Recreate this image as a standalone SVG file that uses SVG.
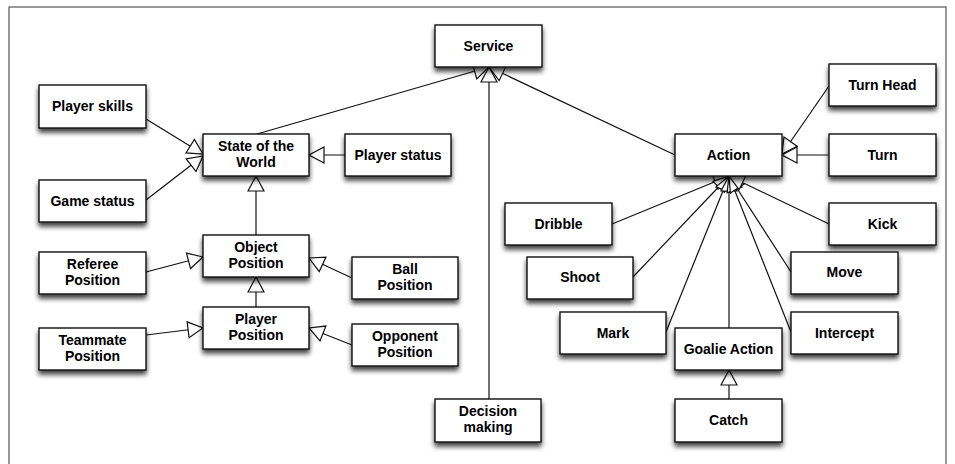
<svg xmlns="http://www.w3.org/2000/svg" width="955" height="464" viewBox="0 0 955 464">
<style>
.box{fill:#fff;stroke:#111;stroke-width:1.4;filter:url(#sh)}
.t{font-family:"Liberation Sans",Arial,Helvetica,sans-serif;font-weight:bold;font-size:14px;fill:#000;text-anchor:middle}
.c{stroke:#111;stroke-width:1.2;fill:none;marker-end:url(#tri)}
</style>
<defs>
<filter id="sh" x="-20%" y="-20%" width="140%" height="160%">
<feGaussianBlur in="SourceAlpha" stdDeviation="2.5"/>
<feOffset dx="0" dy="4" result="b"/>
<feComponentTransfer><feFuncA type="linear" slope="0.75"/></feComponentTransfer>
<feMerge><feMergeNode/><feMergeNode in="SourceGraphic"/></feMerge>
</filter>
<marker id="tri" viewBox="0 0 17 18" refX="16" refY="9" markerWidth="17" markerHeight="18" markerUnits="userSpaceOnUse" orient="auto">
<path d="M1,1 L16,9 L1,17 z" fill="#fff" stroke="#111" stroke-width="1.2"/>
</marker>
</defs>
<rect x="0" y="0" width="955" height="464" fill="#fff"/>
<rect x="9" y="7" width="937" height="470" fill="none" stroke="#555" stroke-width="1.2"/>
<g id="connectors">
<line class="c" x1="146" y1="119" x2="203" y2="154"/>
<line class="c" x1="146" y1="200" x2="203" y2="156"/>
<line class="c" x1="345" y1="155" x2="309" y2="155"/>
<line class="c" x1="257" y1="134" x2="489" y2="67"/>
<line class="c" x1="256" y1="235" x2="256" y2="176"/>
<line class="c" x1="146" y1="272" x2="203" y2="257"/>
<line class="c" x1="256" y1="307" x2="256" y2="277"/>
<line class="c" x1="146" y1="335" x2="203" y2="328"/>
<line class="c" x1="352" y1="278" x2="309" y2="258"/>
<line class="c" x1="352" y1="345" x2="309" y2="328"/>
<line class="c" x1="489" y1="399" x2="489" y2="67"/>
<line class="c" x1="675" y1="155" x2="489" y2="67"/>
<line class="c" x1="829" y1="86" x2="782" y2="154"/>
<line class="c" x1="829" y1="155" x2="782" y2="155"/>
<line class="c" x1="612" y1="224" x2="729" y2="176"/>
<line class="c" x1="633" y1="277" x2="729" y2="176"/>
<line class="c" x1="666" y1="332" x2="729" y2="176"/>
<line class="c" x1="729" y1="328" x2="729" y2="176"/>
<line class="c" x1="791" y1="332" x2="729" y2="176"/>
<line class="c" x1="791" y1="272" x2="729" y2="176"/>
<line class="c" x1="829" y1="224" x2="729" y2="176"/>
<line class="c" x1="729" y1="399" x2="729" y2="370"/>
</g>
<g id="service"><rect class="box" x="435" y="25" width="107" height="42"/><text class="t" x="488.5" y="51">Service</text></g>
<g id="player-skills"><rect class="box" x="39" y="85" width="107" height="43"/><text class="t" x="92.5" y="111">Player skills</text></g>
<g id="game-status"><rect class="box" x="39" y="180" width="107" height="42"/><text class="t" x="92.5" y="206">Game status</text></g>
<g id="state-of-the-world"><rect class="box" x="203" y="134" width="106" height="42"/><text class="t" x="256" y="151">State of the</text><text class="t" x="256" y="167">World</text></g>
<g id="player-status"><rect class="box" x="345" y="134" width="106" height="42"/><text class="t" x="398" y="160">Player status</text></g>
<g id="object-position"><rect class="box" x="203" y="235" width="106" height="42"/><text class="t" x="256" y="252">Object</text><text class="t" x="256" y="268">Position</text></g>
<g id="referee-position"><rect class="box" x="39" y="252" width="107" height="42"/><text class="t" x="92.5" y="269">Referee</text><text class="t" x="92.5" y="285">Position</text></g>
<g id="player-position"><rect class="box" x="203" y="307" width="106" height="42"/><text class="t" x="256" y="324">Player</text><text class="t" x="256" y="340">Position</text></g>
<g id="teammate-position"><rect class="box" x="39" y="328" width="107" height="42"/><text class="t" x="92.5" y="345">Teammate</text><text class="t" x="92.5" y="361">Position</text></g>
<g id="ball-position"><rect class="box" x="352" y="257" width="106" height="42"/><text class="t" x="405" y="274">Ball</text><text class="t" x="405" y="290">Position</text></g>
<g id="opponent-position"><rect class="box" x="352" y="324" width="106" height="42"/><text class="t" x="405" y="341">Opponent</text><text class="t" x="405" y="357">Position</text></g>
<g id="decision-making"><rect class="box" x="435" y="399" width="106" height="43"/><text class="t" x="488" y="416">Decision</text><text class="t" x="488" y="432">making</text></g>
<g id="action"><rect class="box" x="675" y="134" width="107" height="42"/><text class="t" x="728.5" y="160">Action</text></g>
<g id="turn-head"><rect class="box" x="829" y="64" width="107" height="42"/><text class="t" x="882.5" y="90">Turn Head</text></g>
<g id="turn"><rect class="box" x="829" y="134" width="107" height="42"/><text class="t" x="882.5" y="160">Turn</text></g>
<g id="dribble"><rect class="box" x="505" y="203" width="107" height="42"/><text class="t" x="558.5" y="229">Dribble</text></g>
<g id="kick"><rect class="box" x="829" y="203" width="107" height="42"/><text class="t" x="882.5" y="229">Kick</text></g>
<g id="shoot"><rect class="box" x="527" y="257" width="106" height="42"/><text class="t" x="580" y="282">Shoot</text></g>
<g id="move"><rect class="box" x="791" y="252" width="107" height="42"/><text class="t" x="844.5" y="277">Move</text></g>
<g id="mark"><rect class="box" x="560" y="312" width="106" height="42"/><text class="t" x="613" y="338">Mark</text></g>
<g id="intercept"><rect class="box" x="791" y="312" width="107" height="42"/><text class="t" x="844.5" y="338">Intercept</text></g>
<g id="goalie-action"><rect class="box" x="675" y="328" width="107" height="42"/><text class="t" x="728.5" y="354">Goalie Action</text></g>
<g id="catch"><rect class="box" x="675" y="399" width="107" height="43"/><text class="t" x="728.5" y="425">Catch</text></g>
</svg>
